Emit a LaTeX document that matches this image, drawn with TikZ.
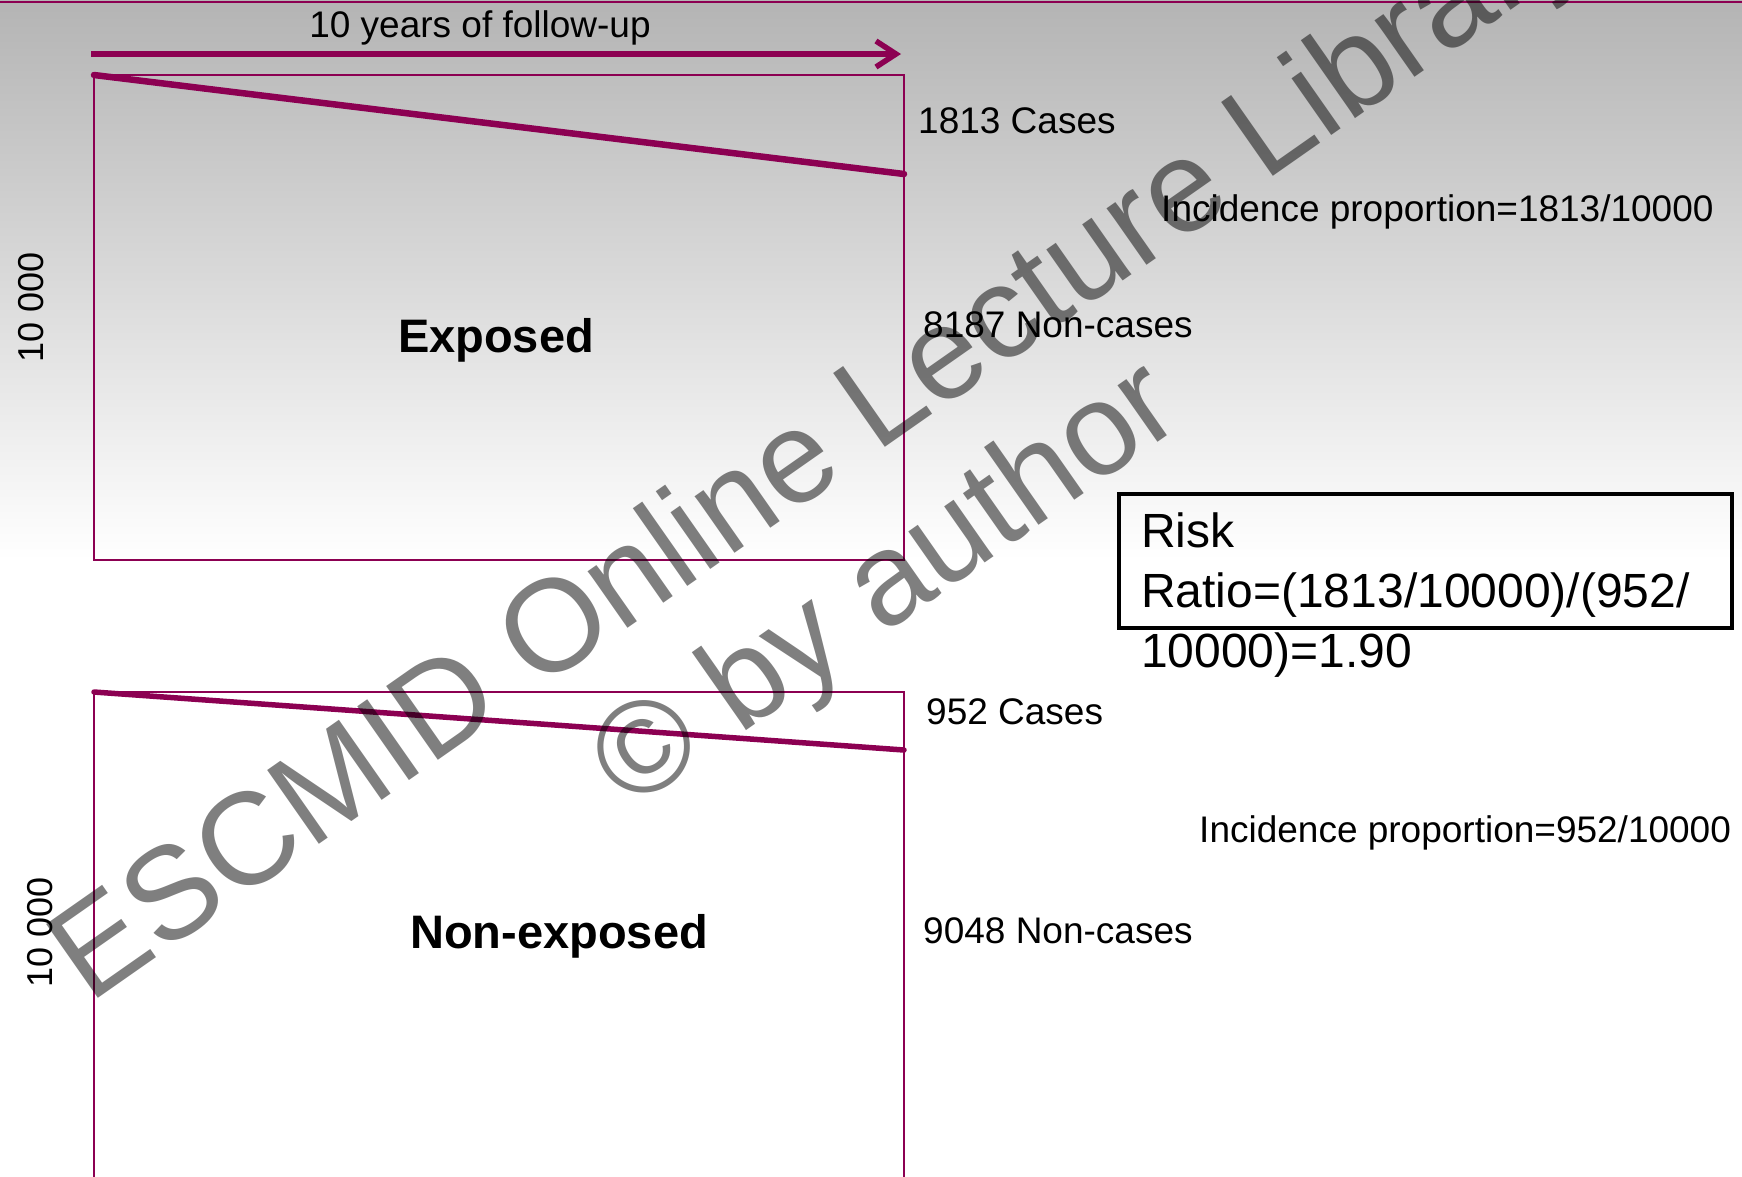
\documentclass[tikz,border=0pt]{standalone}
\usepackage{fontspec}
\setmainfont{Liberation Sans}
\usetikzlibrary{arrows.meta}
\definecolor{plum}{HTML}{8C0052}
\definecolor{bgtop}{HTML}{B4B4B4}
\begin{document}
\begin{tikzpicture}[x=1pt,y=-1pt,
  lbl/.style={inner sep=0pt, anchor=base west, font=\fontsize{37}{44}\selectfont},
  grp/.style={inner sep=0pt, anchor=base, font=\bfseries\fontsize{47}{56}\selectfont},
  sidelbl/.style={inner sep=0pt, rotate=90, font=\fontsize{36}{43}\selectfont},
  thinbox/.style={draw=plum, line width=2pt},
  slope/.style={draw=plum, line width=6.5pt},
  risktxt/.style={inner sep=0pt, anchor=base west, font=\fontsize{48}{61}\selectfont},
  wm/.style={text=black, text opacity=0.5, inner sep=0pt, rotate=35, font=\fontsize{131}{150}\selectfont}
]
\useasboundingbox (0,0) rectangle (1742,1176);
\fill[white] (0,0) rectangle (1742,1176);
\shade[top color=bgtop, bottom color=white] (0,0) rectangle (1742,560);
% top border
\coordinate (bl) at (0,2);
\coordinate (br) at (1742,2);
\draw[plum, line width=2pt] (bl) -- (br);

% follow-up arrow
\coordinate (a1) at (91,54);
\coordinate (a2) at (901,54);
\draw[plum, line width=5.5pt, -{Straight Barb[length=20pt, width=26pt]}] (a1) -- (a2);
\node[inner sep=0pt, anchor=base, font=\fontsize{37}{44}\selectfont] (fu) at (480,37) {10 years of follow-up};

% exposed box
\coordinate (e1) at (94,75);
\coordinate (e2) at (904,560);
\coordinate (e3) at (904,174);
\draw[thinbox] (e1) rectangle (e2);
\draw[slope, line cap=round] (e1) -- (e3);
\node[grp] (exp) at (496,352) {Exposed};
\node[sidelbl] (n1) at (31,307) {10 000};
\node[lbl] (c1) at (918,133) {1813 Cases};
\node[lbl] (nc1) at (923,337) {8187 Non-cases};
\node[lbl] (ip1) at (1161,221) {Incidence proportion=1813/10000};

% non-exposed box
\coordinate (u1) at (94,1180);
\coordinate (u2) at (94,692);
\coordinate (u3) at (904,692);
\coordinate (u4) at (904,1180);
\coordinate (u5) at (904,750);
\draw[thinbox] (u1) -- (u2) -- (u3) -- (u4);
\draw[draw=plum, line width=5.5pt, line cap=round] (u2) -- (u5);
\node[grp] (nexp) at (559,948) {Non-exposed};
\node[sidelbl] (n2) at (40,932) {10 000};
\node[lbl] (c2) at (926,724) {952 Cases};
\node[lbl] (nc2) at (923,943) {9048 Non-cases};
\node[lbl] (ip2) at (1199,842) {Incidence proportion=952/10000};

% risk ratio box
\coordinate (r1) at (1119,494);
\coordinate (r2) at (1732,628);
\draw[black, line width=3.5pt] (r1) rectangle (r2);
\node[risktxt] (rr1) at (1141,547) {Risk};
\node[risktxt] (rr2) at (1141,607) {Ratio=(1813/10000)/(952/};
\node[risktxt] (rr3) at (1141,667) {10000)=1.90};

% watermark
\node[wm] (wm1) at (822,451) {ESCMID Online Lecture Library};
\node[wm] (wm2) at (889,589) {\textcopyright{} by author};
\end{tikzpicture}
\end{document}
